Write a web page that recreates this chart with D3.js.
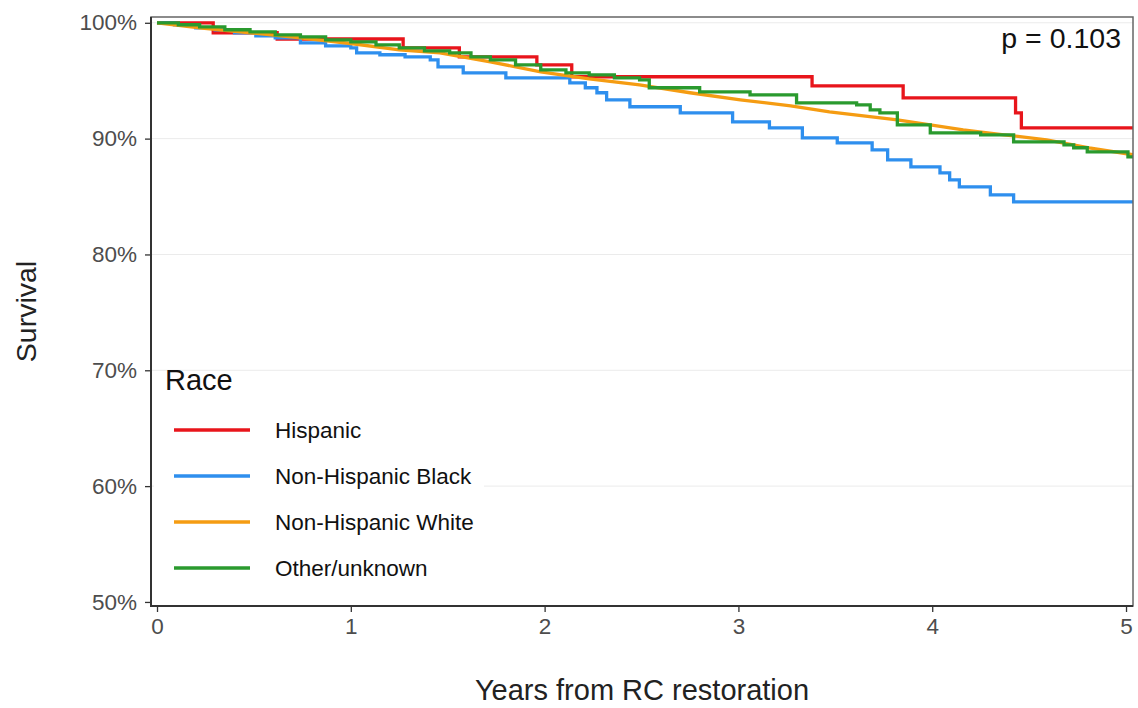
<!DOCTYPE html>
<html>
<head>
<meta charset="utf-8">
<script src="https://cdn.jsdelivr.net/npm/d3@7"></script>
<style>
  body { margin: 0; background: #fff; }
  text { font-family: "Liberation Sans", Arial, sans-serif; }
</style>
</head>
<body>
<script>
// survival curves: [years, survival %]
const hispanic = [[0,100],[0.29,99.14],[0.62,98.6],[1.27,97.84],[1.56,97.06],[1.96,96.37],[2.14,95.34],
  [3.38,94.56],[3.85,93.52],[4.43,92.23],[4.46,90.93],[5.1,90.93]];
const nhBlack = [[0,100],[0.09,99.83],[0.2,99.57],[0.3,99.4],[0.4,99.14],[0.51,98.88],[0.61,98.7],[0.74,98.27],
  [0.87,98.01],[1.0,97.84],[1.03,97.41],[1.15,97.24],[1.28,97.06],[1.41,96.8],[1.45,96.2],[1.58,95.68],
  [1.8,95.25],[2.13,94.82],[2.21,94.39],[2.27,93.96],[2.32,93.35],[2.44,92.75],[2.7,92.23],[2.97,91.45],
  [3.16,90.93],[3.33,90.07],[3.51,89.64],[3.69,89.03],[3.77,88.17],[3.89,87.56],[4.04,87.05],[4.09,86.44],
  [4.14,85.84],[4.3,85.15],[4.42,84.54],[5.1,84.54]];
const nhWhite = [[0,100],[0.22,99.57],[0.48,99.14],[0.74,98.7],[1.01,98.19],[1.25,97.67],[1.46,97.41],
  [1.72,96.63],[1.98,95.77],[2.23,95.16],[2.49,94.65],[2.75,93.96],[3.01,93.35],[3.27,92.83],[3.47,92.31],
  [3.82,91.62],[4.16,90.76],[4.37,90.33],[4.59,89.9],[4.81,89.21],[5.04,88.6]];
const otherUnknown = [[0,100],[0.11,99.83],[0.22,99.65],[0.35,99.4],[0.48,99.22],[0.61,98.96],[0.74,98.79],
  [0.87,98.53],[1.0,98.36],[1.13,98.1],[1.25,97.84],[1.38,97.58],[1.51,97.41],[1.62,97.06],[1.72,96.8],
  [1.85,96.37],[1.98,95.94],[2.11,95.68],[2.23,95.51],[2.36,95.25],[2.49,95.08],[2.54,94.39],[2.8,94.04],
  [3.06,93.78],[3.3,93.09],[3.61,92.92],[3.68,92.49],[3.73,92.23],[3.82,91.19],[3.99,90.5],[4.25,90.33],
  [4.42,89.72],[4.68,89.46],[4.73,89.21],[4.8,88.86],[5.01,88.43],[5.1,88.43]];

const groups = ["Hispanic", "Non-Hispanic Black", "Non-Hispanic White", "Other/unknown"];
const colors = ["#E8151B", "#2E8FEE", "#F59C12", "#2A9A2E"];
const series = [hispanic, nhBlack, nhWhite, otherUnknown];
const xTicks = [0, 1, 2, 3, 4, 5];
const yTicks = [50, 60, 70, 80, 90, 100];
const pText = "p = 0.103";

const w = 1138, h = 708;
const pLeft = 151, pRight = 1133, pTop = 17, pBottom = 606;

const svg = d3.select("body").append("svg")
  .attr("width", w)
  .attr("height", h);

const x = d3.scaleLinear().domain([-0.031, 5.036]).range([pLeft, pRight]);
const y = d3.scaleLinear().domain([49.65, 100.5]).range([pBottom, pTop]);

// grid
svg.append("g").selectAll("line")
  .data(yTicks.slice(1))
  .enter().append("line")
  .attr("x1", pLeft).attr("x2", pRight)
  .attr("y1", d => y(d)).attr("y2", d => y(d))
  .attr("stroke", "#ebebeb").attr("stroke-width", 1);

// axes
const yAxis = svg.append("g")
  .attr("transform", `translate(${pLeft},0)`)
  .call(d3.axisLeft(y).tickValues(yTicks).tickFormat(d => d + "%").tickSize(6).tickPadding(8));
const xAxis = svg.append("g")
  .attr("transform", `translate(0,${pBottom})`)
  .call(d3.axisBottom(x).tickValues(xTicks).tickFormat(d3.format("d")).tickSize(6).tickPadding(6));
[xAxis, yAxis].forEach(g => {
  g.select(".domain").remove();
  g.selectAll(".tick line").attr("stroke", "#333").attr("stroke-width", 1.3);
  g.selectAll(".tick text").attr("fill", "#4D4D4D").style("font-size", "22.5px")
    .style("font-family", "'Liberation Sans', Arial, sans-serif");
});

// curves
svg.append("clipPath").attr("id", "clip")
  .append("rect").attr("x", pLeft).attr("y", pTop).attr("width", pRight - pLeft).attr("height", pBottom - pTop);

const plot = svg.append("g").attr("clip-path", "url(#clip)");
series.forEach((s, i) => {
  const line = d3.line()
    .x(d => x(d[0]))
    .y(d => y(d[1]))
    .curve(i === 2 ? d3.curveLinear : d3.curveStepAfter);
  plot.append("path")
    .datum(s)
    .attr("d", line)
    .attr("fill", "none")
    .attr("stroke", colors[i])
    .attr("stroke-width", 3.3);
});

// legend
const lg = svg.append("g");
lg.append("rect")
  .attr("x", pLeft + 3).attr("y", 373).attr("width", 330).attr("height", 225)
  .attr("fill", "#fff");
lg.append("text").attr("x", 165).attr("y", 390)
  .style("font-size", "29px").attr("fill", "#111").text("Race");
const items = lg.selectAll("g.item").data(groups).enter().append("g")
  .attr("transform", (d, i) => `translate(0,${430 + i * 46})`);
items.append("line")
  .attr("x1", 174).attr("x2", 250).attr("y1", 0).attr("y2", 0)
  .attr("stroke", (d, i) => colors[i]).attr("stroke-width", 3.6);
items.append("text")
  .attr("x", 275).attr("y", 8)
  .style("font-size", "22.5px").attr("fill", "#111")
  .text(d => d);

// panel border
svg.append("rect")
  .attr("x", pLeft).attr("y", pTop).attr("width", pRight - pLeft).attr("height", pBottom - pTop)
  .attr("fill", "none").attr("stroke", "#666").attr("stroke-width", 1.5);
svg.append("path")
  .attr("d", `M${pLeft},${pTop}V${pBottom}H${pRight}`)
  .attr("fill", "none").attr("stroke", "#333").attr("stroke-width", 2);

// p-value
svg.append("text").attr("x", 1121).attr("y", 48)
  .attr("text-anchor", "end").style("font-size", "28.5px").attr("fill", "#111")
  .text(pText);

// axis titles
svg.append("text").attr("x", (pLeft + pRight) / 2).attr("y", 700)
  .attr("text-anchor", "middle").style("font-size", "29px").attr("fill", "#222")
  .text("Years from RC restoration");
svg.append("text")
  .attr("transform", `translate(36,${(pTop + pBottom) / 2}) rotate(-90)`)
  .attr("text-anchor", "middle").style("font-size", "28.5px").attr("fill", "#222")
  .text("Survival");
</script>
</body>
</html>
